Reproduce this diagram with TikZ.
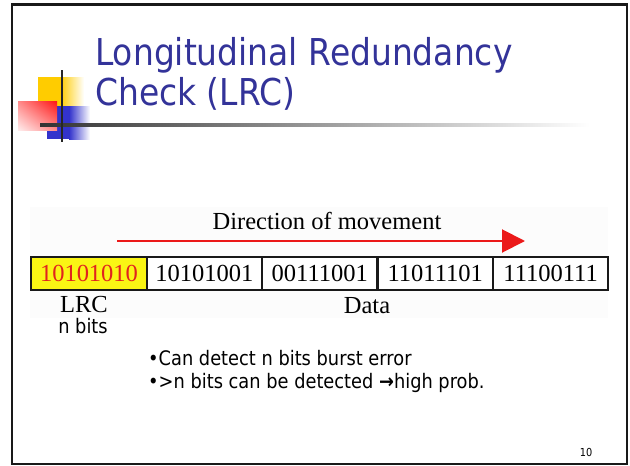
\documentclass[tikz,border=0pt]{standalone}
\usepackage{fontspec}
\setmainfont{Liberation Serif}
\newfontfamily\slidefont[FakeStretch=0.89]{DejaVu Sans}
\usetikzlibrary{arrows.meta,positioning,shadings}
\definecolor{titleblue}{RGB}{51,51,153}
\definecolor{logoyellow}{RGB}{255,204,0}
\definecolor{logoblue}{RGB}{51,51,204}
\definecolor{logored}{RGB}{255,20,20}
\definecolor{lrcyellow}{RGB}{250,245,20}
\definecolor{lrcred}{RGB}{225,35,30}
\definecolor{movered}{RGB}{235,25,25}

\begin{document}
\begin{tikzpicture}[x=1pt,y=-1pt]
\tikzset{cell/.style = {draw=black!90, line width=2.2pt, minimum width=115.4pt, minimum height=32.5pt, inner sep=0pt, font=\fontsize{24.5}{26}\selectfont},
 serif/.style = {font=\fontsize{24.5}{26}\selectfont, inner sep=0pt, anchor=base},
 sans/.style = {font=\slidefont\fontsize{20}{22}\selectfont, inner sep=0pt, anchor=base west}}
\useasboundingbox (0,0) rectangle (630,466);
%slide frame
\draw[line width=2.5pt, black!90] (12,4.5) rectangle (627,464);
%logo squares
\fill[logoyellow] (38,77) rectangle (60,107);
\shade[left color=logoyellow, right color=white] (60,77) rectangle (84,107);
\fill[logoblue] (47,106) rectangle (69,139);
\shade[left color=logoblue, right color=white] (69,106) rectangle (90,139);
\shade[upper right=logored, upper left=logored!50, lower right=logored!50, lower left=logored!8] (18,101) rectangle (57,130);
\shade[left color=black!80, middle color=black!50, right color=white] (40,123.5) rectangle (590,126.5);
\draw[line width=2.5pt, black!85] (62,70) -- (62,142);
%title
\node[font=\slidefont\fontsize{37}{40}\selectfont, text=titleblue, inner sep=0pt, anchor=base west] (title1) at (95,65.7) {Longitudinal Redundancy};
\node[font=\slidefont\fontsize{37}{40}\selectfont, text=titleblue, inner sep=0pt, anchor=base west] (title2) at (95,105) {Check (LRC)};
%faint background of the figure
\fill[black!1.2] (30,207) rectangle (608,318);
%direction of movement
\node[serif] (dir) at (327,229) {Direction of movement};
\coordinate (tail) at (117,241);
\coordinate (head) at (525,241);
\draw[movered, line width=2pt, -{Triangle[length=23pt,width=23pt]}] (tail) -- (head);
%lrc and data cells
\node[cell, fill=lrcyellow, text=lrcred] (lrc) at (89,273.5) {10101010};
\foreach \bits [count=\i] in {10101001,00111001,11011101,11100111}
  \node[cell, fill=white] (d\i) at ({89+115.4*\i},273.5) {\bits};
\node[serif] (lrclabel) at (84,312) {LRC};
\node[sans, anchor=base] (nbits) at (83,333) {n bits};
\node[serif] (datalabel) at (367,313) {Data};
%bullets
\node[sans] (b1) at (148,365) {•Can detect n bits burst error};
\node[sans] (b2) at (148,388) {•>n bits can be detected {\bfseries →}high prob.};
\node[font=\slidefont\fontsize{11}{12}\selectfont, inner sep=0pt] (page) at (586,452) {10};
\end{tikzpicture}
\end{document}
